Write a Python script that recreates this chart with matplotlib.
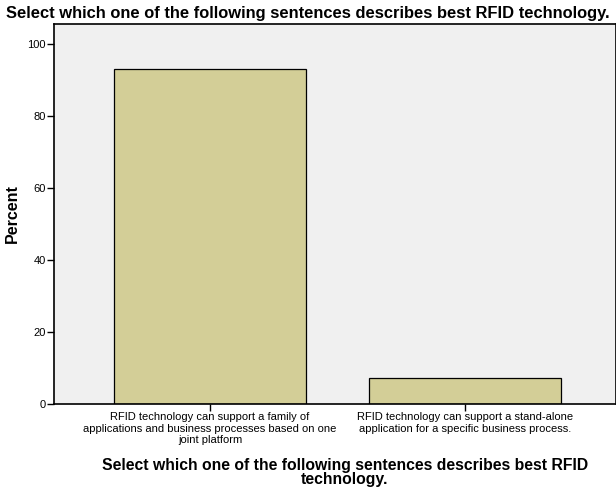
import matplotlib
matplotlib.use("Agg")
import matplotlib.pyplot as plt

# chart data
categories = [
    "RFID technology can support a family of\napplications and business processes based on one\njoint platform",
    "RFID technology can support a stand-alone\napplication for a specific business process.",
]
percent = [92.9, 7.1]
y_ticks = [0, 20, 40, 60, 80, 100]
title = "Select which one of the following sentences describes best RFID technology."
x_title = "Select which one of the following sentences describes best RFID\ntechnology."

plt.rcParams['font.family'] = ['Liberation Sans', 'DejaVu Sans']

fig = plt.figure(figsize=(6.16, 4.90), dpi=100)
ax = fig.add_axes([54 / 616, 86 / 490, 562 / 616, 380 / 490])
ax.set_facecolor('#f0f0f0')

xpos = list(range(len(categories)))
ax.bar(xpos, percent, width=0.753, color='#d3ce97', edgecolor='black', linewidth=0.9)

ax.set_xlim(-0.612, 1.592)
ax.set_ylim(0, 105.5)
ax.set_yticks(y_ticks)
ax.set_xticks(xpos)
ax.set_xticklabels(categories, fontsize=8.0, linespacing=1.15)
ax.tick_params(axis='y', labelsize=8, length=5, width=1, pad=1)
ax.tick_params(axis='x', length=5, width=1, pad=1)

for s in ax.spines.values():
    s.set_linewidth(1.2)

ax.set_ylabel("Percent", fontsize=11.5, fontweight='bold', labelpad=5)
fig.text(0.5, 0.988, title, ha='center', va='top', fontsize=11.9, fontweight='bold')
fig.text(0.56, 0.036, x_title, ha='center', va='center', fontsize=11.3,
         fontweight='bold', linespacing=0.95)

fig.savefig("out.png", dpi=100)
